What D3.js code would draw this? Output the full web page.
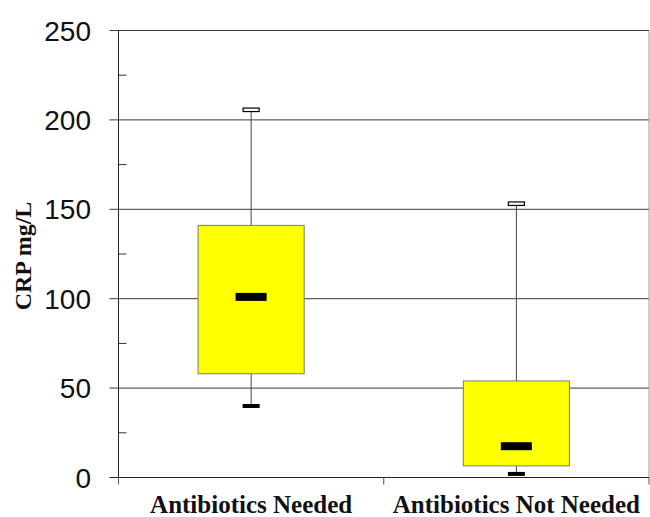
<!DOCTYPE html>
<html>
<head>
<meta charset="utf-8">
<script src="https://cdn.jsdelivr.net/npm/d3@7"></script>
<style>
  body { margin: 0; background: #fff; }
</style>
</head>
<body>
<div id="chart"></div>
<script>
const categories = ["Antibiotics Needed", "Antibiotics Not Needed"]
const mins = [40, 2]
const q1s = [58, 6.5]
const medians = [101, 17.5]
const q3s = [141, 54]
const maxs = [205.5, 153]
const yTicks = [0, 50, 100, 150, 200, 250]
const yMinor = [25, 75, 125, 175, 225]

const width = 650,
      height = 517

const plotLeft = 118.5, plotRight = 649, plotTop = 30.5, plotBottom = 477.5

const data = categories.map((c, i) => ({
    cat: c, min: mins[i], q1: q1s[i], med: medians[i], q3: q3s[i], max: maxs[i]
}))

const svg = d3.select("#chart")
    .append("svg")
    .attr("width", width)
    .attr("height", height)

const x = d3.scaleBand()
    .domain(categories)
    .range([plotLeft, plotRight])

const y = d3.scaleLinear()
    .domain([0, 250])
    .range([plotBottom, plotTop])

// gridlines (extend out left of the axis like major ticks)
svg.append("g")
    .selectAll("line")
    .data(yTicks.filter(t => t > 0))
    .join("line")
    .attr("x1", plotLeft - 9)
    .attr("x2", plotRight)
    .attr("y1", d => y(d))
    .attr("y2", d => y(d))
    .attr("stroke", "#3a3a3a")
    .attr("stroke-width", 1)

// right frame
svg.append("line")
    .attr("x1", plotRight).attr("x2", plotRight)
    .attr("y1", plotTop).attr("y2", plotBottom)
    .attr("stroke", "#9a9a9a")

// minor ticks inside
svg.append("g")
    .selectAll("line")
    .data(yMinor)
    .join("line")
    .attr("x1", plotLeft)
    .attr("x2", plotLeft + 8)
    .attr("y1", d => y(d))
    .attr("y2", d => y(d))
    .attr("stroke", "#333")

// y axis
svg.append("line")
    .attr("x1", plotLeft).attr("x2", plotLeft)
    .attr("y1", plotTop).attr("y2", plotBottom + 6)
    .attr("stroke", "#222")

svg.append("g")
    .selectAll("text")
    .data(yTicks)
    .join("text")
    .attr("x", 91)
    .attr("y", d => y(d) + 10)
    .attr("text-anchor", "end")
    .attr("font-family", "Liberation Sans, Arial, sans-serif")
    .attr("font-size", "28px")
    .attr("fill", "#111")
    .text(d => d)

// x axis
svg.append("line")
    .attr("x1", plotLeft - 9).attr("x2", plotRight)
    .attr("y1", plotBottom).attr("y2", plotBottom)
    .attr("stroke", "#222")

const xEdges = [plotLeft, ...categories.map(c => x(c) + x.bandwidth())]
svg.append("g")
    .selectAll("line")
    .data(xEdges)
    .join("line")
    .attr("x1", d => d).attr("x2", d => d)
    .attr("y1", plotBottom).attr("y2", plotBottom + 7)
    .attr("stroke", "#555")

svg.append("g")
    .selectAll("text")
    .data(categories)
    .join("text")
    .attr("x", d => x(d) + x.bandwidth() / 2)
    .attr("y", 513)
    .attr("text-anchor", "middle")
    .attr("font-family", "Liberation Serif, Times New Roman, serif")
    .attr("font-weight", "bold")
    .attr("font-size", "25px")
    .attr("fill", "#111")
    .text(d => d)

svg.append("text")
    .attr("transform", `translate(31, 256) rotate(-90)`)
    .attr("text-anchor", "middle")
    .attr("font-family", "Liberation Serif, Times New Roman, serif")
    .attr("font-weight", "bold")
    .attr("font-size", "24px")
    .attr("fill", "#111")
    .text("CRP mg/L")

// boxes
const boxW = x.bandwidth() * 0.4
const cx = d => x(d.cat) + x.bandwidth() / 2

const g = svg.append("g")

g.selectAll(".whisker")
    .data(data)
    .join("line")
    .attr("class", "whisker")
    .attr("x1", cx).attr("x2", cx)
    .attr("y1", d => y(d.max)).attr("y2", d => y(d.min))
    .attr("stroke", "#444")

g.selectAll(".box")
    .data(data)
    .join("rect")
    .attr("class", "box")
    .attr("x", d => cx(d) - boxW / 2)
    .attr("y", d => y(d.q3))
    .attr("width", boxW)
    .attr("height", d => y(d.q1) - y(d.q3))
    .attr("fill", "#ffff00")
    .attr("stroke", "#7a7a7a")

g.selectAll(".med")
    .data(data)
    .join("rect")
    .attr("class", "med")
    .attr("x", d => cx(d) - 15.5)
    .attr("y", d => y(d.med) - 4)
    .attr("width", 31)
    .attr("height", 8)
    .attr("fill", "#000")

g.selectAll(".maxcap")
    .data(data)
    .join("rect")
    .attr("class", "maxcap")
    .attr("x", d => cx(d) - 8)
    .attr("y", d => y(d.max) - 2)
    .attr("width", 16)
    .attr("height", 3.5)
    .attr("fill", "#fff")
    .attr("stroke", "#000")
    .attr("stroke-width", 1.2)

g.selectAll(".mincap")
    .data(data)
    .join("rect")
    .attr("class", "mincap")
    .attr("x", d => cx(d) - 8.5)
    .attr("y", d => y(d.min) - 2)
    .attr("width", 17)
    .attr("height", 4)
    .attr("fill", "#000")
</script>
</body>
</html>
